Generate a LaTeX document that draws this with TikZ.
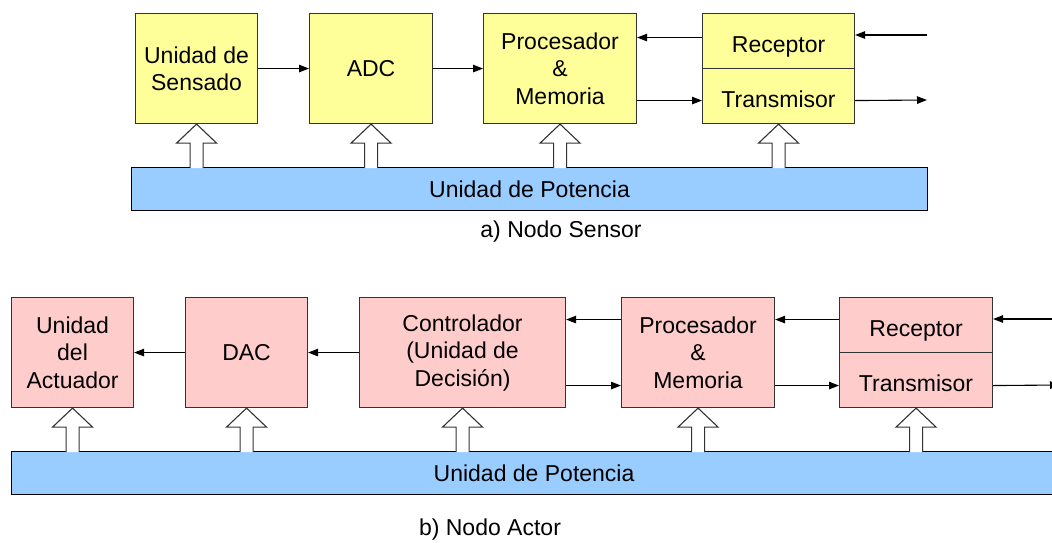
\documentclass[tikz,border=0pt]{standalone}
\usepackage{fontspec}
\setmainfont{Liberation Sans}
\usetikzlibrary{arrows.meta,calc}
\definecolor{sensfill}{HTML}{FFFF99}
\definecolor{actfill}{HTML}{FFCCCC}
\definecolor{powerfill}{HTML}{99CCFF}
\definecolor{edgeclr}{HTML}{333333}
\tikzset{
  blk/.style={draw=edgeclr, line width=1.1pt, anchor=north west, inner sep=0pt,
              align=center, font=\fontsize{23}{27.5}\selectfont},
  sblk/.style={blk, fill=sensfill},
  ablk/.style={blk, fill=actfill},
  half/.style={text height=22pt, text depth=0pt},
  powerbar/.style={draw=black, line width=1.1pt, fill=powerfill, anchor=north west,
                   inner sep=0pt, font=\fontsize{23}{27.5}\selectfont},
  arr/.style={draw=black, line width=1.1pt, -{Triangle[length=10pt,width=7.5pt]}},
  caption/.style={font=\fontsize{23}{27.5}\selectfont},
  powerarrow/.pic={
    \draw[fill=white, draw=edgeclr, line width=1.1pt]
      (-6.5,44) -- (-6.5,19) -- (-20,19) -- (0,0) -- (20,19) -- (6.5,19) -- (6.5,44);
  }
}
\begin{document}
\begin{tikzpicture}[x=1pt,y=-1pt]
\clip (0,0) rectangle (1052,542);
\fill[white] (0,0) rectangle (1052,542);

% ---------- a) sensor node ----------
\node[sblk, minimum width=122pt, minimum height=110pt] (sens) at (135,13) {Unidad de\\Sensado};
\node[sblk, minimum width=123pt, minimum height=110pt] (adc) at (309,13) {ADC};
\node[sblk, minimum width=153pt, minimum height=110pt] (proc) at (483,13) {Procesador\\\&\\Memoria};
\node[sblk, half, minimum width=152pt, minimum height=55pt] (rec) at (702,13) {Receptor};
\node[sblk, half, minimum width=152pt, minimum height=55pt] (tra) at (702,68) {Transmisor};
\node[powerbar, minimum width=796pt, minimum height=43pt] (pwrA) at (131,167) {Unidad de Potencia};
\node[caption] (capA) at (561,232) {a) Nodo Sensor};

\coordinate (inA) at (927,35);
\coordinate (outA) at (927,100);

\draw[arr] (sens) -- (adc);
\draw[arr] (adc) -- (proc);
\draw[arr] ([yshift=3.5pt]rec.west) -- ([yshift=3.5pt]rec.west -| proc.east);
\draw[arr] ([yshift=-4.5pt]tra.west -| proc.east) -- ([yshift=-4.5pt]tra.west);
\draw[arr] (inA) -- (inA -| rec.east);
\draw[arr] ([yshift=-4.5pt]tra.east) -- (outA);

\foreach \b in {sens,adc,proc,tra}
  \pic at (\b.south) {powerarrow};

% ---------- b) actor node ----------
\node[ablk, minimum width=122pt, minimum height=110pt] (act) at (11,297) {Unidad\\del\\Actuador};
\node[ablk, minimum width=122pt, minimum height=110pt] (dac) at (185,297) {DAC};
\node[ablk, minimum width=206pt, minimum height=110pt] (ctl) at (359,297) {Controlador\\(Unidad de\\Decisión)};
\node[ablk, minimum width=153pt, minimum height=110pt] (procB) at (621,297) {Procesador\\\&\\Memoria};
\node[ablk, half, minimum width=153pt, minimum height=55pt] (recB) at (839,297) {Receptor};
\node[ablk, half, minimum width=153pt, minimum height=55pt] (traB) at (839,352) {Transmisor};
\node[powerbar, minimum width=1045pt, minimum height=43pt] (pwrB) at (11,451) {Unidad de Potencia};
\node[caption] (capB) at (490,530) {b) Nodo Actor};

\coordinate (inB) at (1052,319);
\coordinate (outB) at (1060,385);

\draw[arr] (dac) -- (act);
\draw[arr] (ctl) -- (dac);
\draw[arr] ([yshift=33pt]procB.west) -- ([yshift=33pt]procB.west -| ctl.east);
\draw[arr] ([yshift=-33pt]procB.west -| ctl.east) -- ([yshift=-33pt]procB.west);
\draw[arr] ([yshift=5.5pt]recB.west) -- ([yshift=5.5pt]recB.west -| procB.east);
\draw[arr] ([yshift=-5.5pt]traB.west -| procB.east) -- ([yshift=-5.5pt]traB.west);
\draw[arr] (inB) -- (inB -| recB.east);
\draw[arr] ([yshift=-5.5pt]traB.east) -- (outB);

\foreach \b in {act,dac,ctl,procB,traB}
  \pic at (\b.south) {powerarrow};
\end{tikzpicture}
\end{document}
